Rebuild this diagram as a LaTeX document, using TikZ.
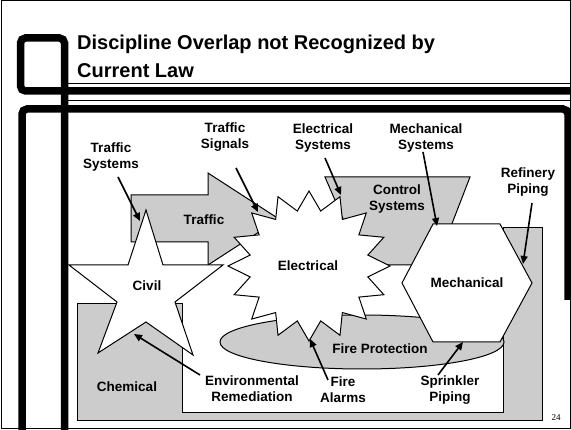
\documentclass[tikz,border=0pt]{standalone}
\usepackage{fontspec}
\setmainfont{Liberation Sans}
\newfontfamily\serifpg{Liberation Serif}
\usetikzlibrary{arrows.meta}
\definecolor{shapegrey}{HTML}{CCCCCC}
\tikzset{
  frame/.style={line width=1pt, draw=black},
  thickbar/.style={line width=7.5pt, draw=black},
  shapeline/.style={line width=1pt, draw=black, line join=miter},
  greyshape/.style={shapeline, fill=shapegrey},
  whiteshape/.style={shapeline, fill=white},
  lbl/.style={font=\fontsize{13.5}{16}\selectfont\bfseries, align=center, inner sep=0pt},
  conn/.style={line width=1.6pt, -{Triangle[length=8pt,width=7pt]}, shorten >=0pt},
}
\begin{document}
\begin{tikzpicture}[x=1pt,y=-1pt]
\useasboundingbox (0,0) rectangle (571,430);
\fill[white] (0,0) rectangle (571,430);
% slide frame
\draw[frame] (1,1) rectangle (570,429);
\draw[line width=0.9pt] (68,83) -- (571,83);
\draw[line width=0.9pt] (68,100) -- (571,100);
\draw[thickbar, rounded corners=5pt] (575,91) -- (20.5,91) -- (20.5,38) -- (64.5,38) -- (64.5,440);
\draw[thickbar, rounded corners=5pt] (22,440) -- (22,109) -- (568,109) -- (568,300);
% title
\node[anchor=north west, inner sep=0pt, font=\fontsize{20}{28}\selectfont\bfseries, align=left] (title) at (77,34.5)
  {Discipline Overlap not Recognized by\\Current Law};
% Chemical
\path[greyshape] (77,304) -- (182,304) -- (182,413) -- (503,413) -- (503,228) -- (542,228) -- (542,421) -- (77,421) -- cycle;
% Fire protection ellipse
\path[greyshape] (362,342) ellipse [x radius=142, y radius=27];
% Traffic arrow
\path[greyshape] (131,195) -- (208,195) -- (208,173) -- (279,219) -- (208,265) -- (208,242) -- (131,242) -- cycle;
% Control systems trapezoid
\path[greyshape] (325,177) -- (470,177) -- (436,265) -- (363,265) -- cycle;
% Civil star
\path[whiteshape] (146,210) -- (163,265) -- (223,265) -- (175,302) -- (193,355) -- (146,322) -- (98,353) -- (117,302) -- (69,265) -- (128,265) -- cycle;
% Electrical 16-point starburst
\path[whiteshape] plot[samples at={0,1,...,31}, variable=\k]
  ({309+ifthenelse(mod(\k,2)==0,81,60)*cos(\k*11.25)}, {266+ifthenelse(mod(\k,2)==0,75,56)*sin(\k*11.25)}) -- cycle;
% Mechanical hexagon
\path[whiteshape] (402,283) -- (433,224) -- (500,224) -- (532,283) -- (500,342) -- (433,342) -- cycle;
% inner labels
\node[lbl] (traffic) at (204,220) {Traffic};
\node[lbl] (civil) at (147,286) {Civil};
\node[lbl] (electrical) at (308,266) {Electrical};
\node[lbl] (control) at (397,199) {Control\\Systems};
\node[lbl] (mechanical) at (467,283) {Mechanical};
\node[lbl] (fireprot) at (380,349) {Fire Protection};
\node[lbl] (chemical) at (127,387) {Chemical};
% outer labels
\node[lbl] (trafsys) at (111,157) {Traffic\\Systems};
\node[lbl] (trafsig) at (225,137) {Traffic\\Signals};
\node[lbl] (elecsys) at (323,138) {Electrical\\Systems};
\node[lbl] (mechsys) at (426,138) {Mechanical\\Systems};
\node[lbl] (refpip) at (528,182) {Refinery\\Piping};
\node[lbl] (envrem) at (252,389) {Environmental\\Remediation};
\node[lbl] (firealarm) at (343,390) {Fire\\Alarms};
\node[lbl] (sprink) at (450,390) {Sprinkler\\Piping};
\node[anchor=center, inner sep=0pt, font=\serifpg\fontsize{9}{10}\selectfont] (pagenum) at (556,418) {24};
% connector endpoints
\coordinate (a1s) at (118,177); \coordinate (a1e) at (140,221);
\coordinate (a2s) at (236,168); \coordinate (a2e) at (258,212);
\coordinate (a3s) at (325,158); \coordinate (a3e) at (341,195);
\coordinate (a4s) at (423,152); \coordinate (a4e) at (437,226);
\coordinate (a5s) at (532,203); \coordinate (a5e) at (523,264);
\coordinate (a6s) at (200,375); \coordinate (a6e) at (134,334);
\coordinate (a7s) at (328,380); \coordinate (a7e) at (310,339);
\coordinate (a8s) at (438,375); \coordinate (a8e) at (463,342);
\draw[conn] (a1s) -- (a1e);
\draw[conn] (a2s) -- (a2e);
\draw[conn] (a3s) -- (a3e);
\draw[conn] (a4s) -- (a4e);
\draw[conn] (a5s) -- (a5e);
\draw[conn] (a6s) -- (a6e);
\draw[conn] (a7s) -- (a7e);
\draw[conn] (a8s) -- (a8e);
\end{tikzpicture}
\end{document}
